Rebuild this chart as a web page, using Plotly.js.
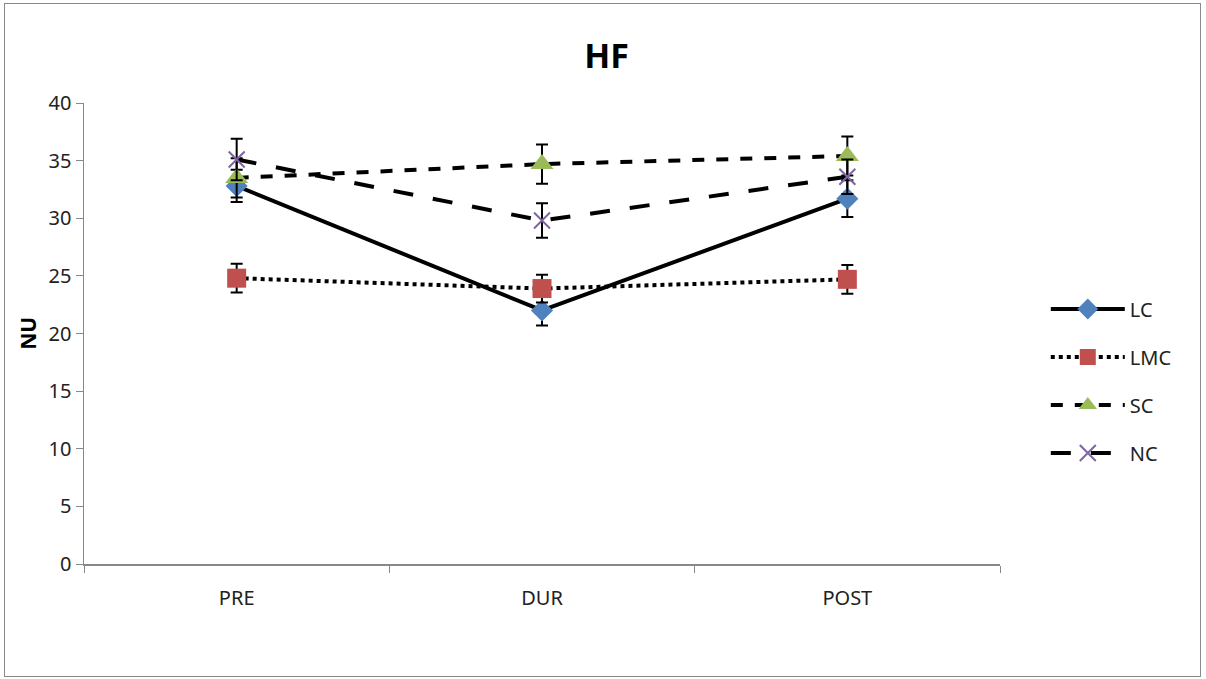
<!DOCTYPE html>
<html><head><meta charset="utf-8">
<script src="https://cdn.plot.ly/plotly-3.0.1.min.js"></script>
<style>
html,body{margin:0;padding:0;background:#fff;}
#wrap{position:relative;width:1206px;height:679px;}
#chart{position:absolute;left:0;top:0;width:1206px;height:679px;}
#frame{position:absolute;left:4px;top:3px;width:1195px;height:672px;border:1px solid #8a8a8a;pointer-events:none;}
</style></head>
<body>
<div id="wrap"><div id="chart"></div><div id="frame"></div></div>
<script>
const categories = ["PRE", "DUR", "POST"];
const seriesNames = ["LC", "LMC", "SC", "NC"];
const LC  = [32.8, 22.0, 31.7];
const LMC = [24.8, 23.9, 24.7];
const SC  = [33.5, 34.7, 35.4];
const NC  = [35.1, 29.8, 33.6];
const LC_err  = [1.4, 1.3, 1.6];
const LMC_err = [1.25, 1.2, 1.25];
const SC_err  = [1.7, 1.7, 1.7];
const NC_err  = [1.8, 1.5, 1.5];

const values = [LC, LMC, SC, NC];
const errs = [LC_err, LMC_err, SC_err, NC_err];
const styles = [
  {dash:"solid", symbol:"diamond", color:"#4F81BD", size:17},
  {dash:"dot", symbol:"square", color:"#C0504D", size:19},
  {dash:"dash", symbol:"triangle-up", color:"#9BBB59", size:20},
  {dash:"longdash", symbol:"x-thin", color:"#8064A2", size:16}
];

const traces = seriesNames.map((n,i)=>({
  type:"scatter", mode:"lines+markers", name:n, x:categories, y:values[i],
  legendgroup:n,
  line:{color:"#000", width:4, dash:styles[i].dash},
  marker:{symbol:styles[i].symbol, color:styles[i].color, size:styles[i].size,
          line:{color:styles[i].color, width: styles[i].symbol==="x-thin"?2:0}},
  error_y:{type:"data", array:errs[i], visible:true, color:"#000", thickness:2, width:6}
}));

const layout = {
  width:1206, height:679,
  margin:{l:84, r:206, t:103, b:115},
  paper_bgcolor:"rgba(0,0,0,0)", plot_bgcolor:"#fff",
  font:{family:"Noto Sans, Open Sans, sans-serif", color:"#222", size:20},
  title:{text:"<b>HF</b>", x:0.503, xref:"container", xanchor:"center", y:0.918, yref:"container", yanchor:"middle",
         font:{size:34, color:"#000", family:"Noto Sans, sans-serif"}},
  xaxis:{type:"category", range:[-0.5,2.5], showline:true, linecolor:"#888", linewidth:1.5,
         ticks:"outside", tickson:"boundaries", ticklen:7, tickcolor:"#888",
         showgrid:false, zeroline:false, tickfont:{size:20}, ticklabelstandoff:15},
  yaxis:{range:[0,40], dtick:5, showline:true, linecolor:"#888", linewidth:1.5,
         ticks:"outside", ticklen:7, tickcolor:"#888", showgrid:false, zeroline:false,
         tickfont:{size:20}},
  annotations:[{text:"<b>NU</b>", xref:"paper", yref:"paper", x:-0.062, y:0.5, textangle:-90,
                showarrow:false, xanchor:"center", yanchor:"middle", font:{size:21, color:"#000"}}],
  showlegend:true,
  legend:{x:1.05, xanchor:"left", y:0.397, yanchor:"middle", traceorder:"grouped",
          tracegroupgap:19, itemwidth:74, font:{size:20, color:"#222"}, bgcolor:"rgba(0,0,0,0)"}
};

Plotly.newPlot("chart", traces, layout, {displayModeBar:false, staticPlot:true});
</script>
</body></html>
